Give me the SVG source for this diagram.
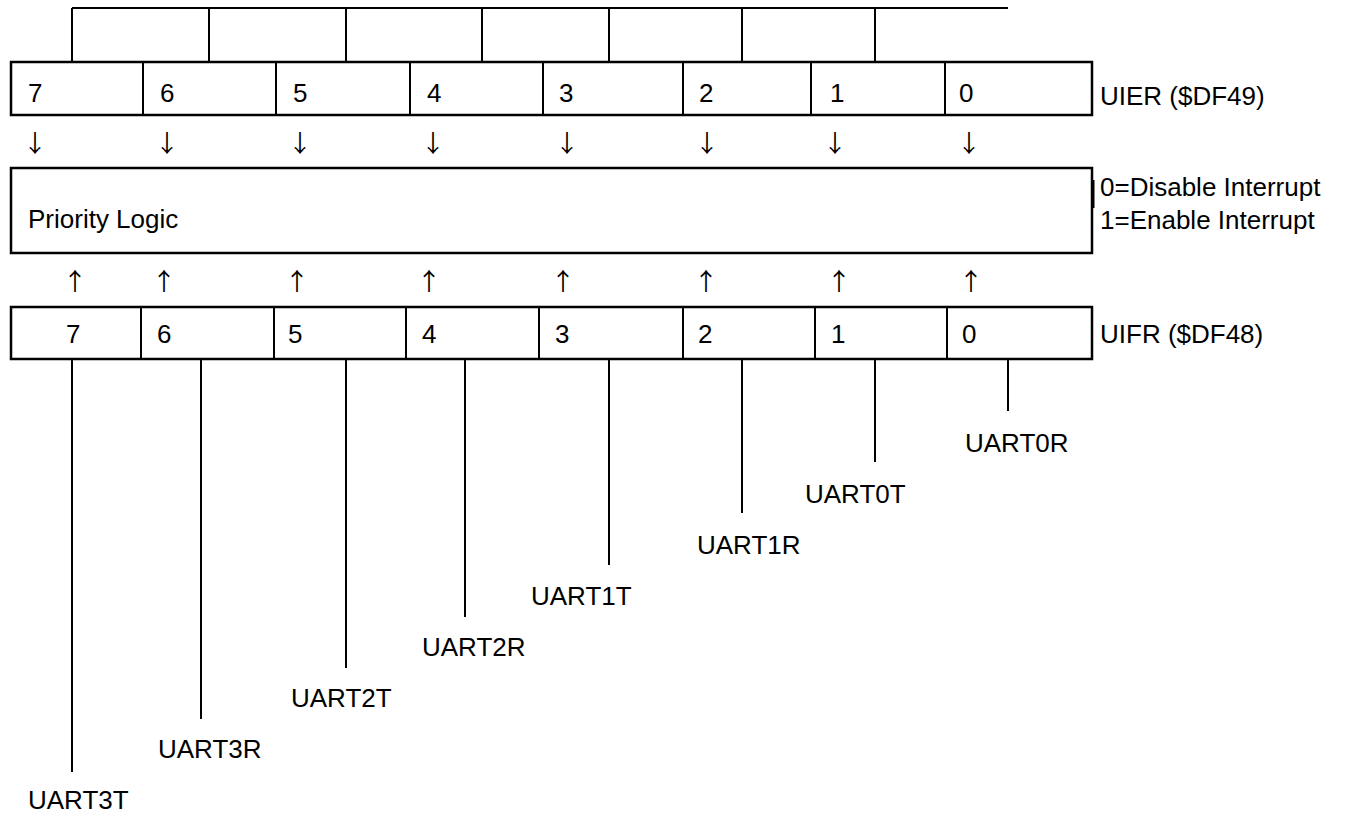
<svg xmlns="http://www.w3.org/2000/svg" width="1348" height="815" viewBox="0 0 1348 815">
<style>
.ln{stroke:#000;stroke-width:2;fill:none}
.box{stroke:#000;stroke-width:2.5;fill:#fff}
text{font-family:"Liberation Sans",Arial,sans-serif;font-size:26px;fill:#000}
.ar{text-anchor:middle;font-family:"Noto Sans CJK JP","Noto Sans CJK SC",sans-serif;font-size:24px}
</style>
<rect width="1348" height="815" fill="#fff"/>
<g id="top-row">
<path class="ln" d="M72 8H1008M72 8V62M209 8V62M346 8V62M482 8V62M609 8V62M742 8V62M875 8V62"/>
</g>
<g id="uier">
<rect class="box" x="11" y="62" width="1081" height="53"/>
<path class="ln" d="M143 62V115M276 62V115M410 62V115M543 62V115M683 62V115M811 62V115M945 62V115"/>
<text x="28" y="102">7</text><text x="160" y="102">6</text><text x="293" y="102">5</text><text x="427" y="102">4</text>
<text x="559" y="102">3</text><text x="699" y="102">2</text><text x="830" y="102">1</text><text x="959" y="102">0</text>
<text x="1100" y="105">UIER ($DF49)</text>
</g>
<g id="down-arrows">
<text class="ar" x="35" y="152">↓</text><text class="ar" x="167" y="152">↓</text><text class="ar" x="300" y="152">↓</text><text class="ar" x="433" y="152">↓</text>
<text class="ar" x="567" y="152">↓</text><text class="ar" x="707" y="152">↓</text><text class="ar" x="835" y="152">↓</text><text class="ar" x="969" y="152">↓</text>
</g>
<g id="priority-logic">
<rect class="box" x="11" y="168" width="1081" height="85"/>
<path class="ln" d="M1093.5 180V208"/>
<text x="28" y="228">Priority Logic</text>
<text x="1100" y="196">0=Disable Interrupt</text>
<text x="1100" y="229">1=Enable Interrupt</text>
</g>
<g id="up-arrows">
<text class="ar" x="75" y="290">↑</text><text class="ar" x="164" y="290">↑</text><text class="ar" x="297" y="290">↑</text><text class="ar" x="429" y="290">↑</text>
<text class="ar" x="563" y="290">↑</text><text class="ar" x="706" y="290">↑</text><text class="ar" x="839" y="290">↑</text><text class="ar" x="971" y="290">↑</text>
</g>
<g id="uifr">
<rect class="box" x="11" y="307" width="1081" height="52"/>
<path class="ln" d="M141 307V359M274 307V359M406 307V359M539 307V359M683 307V359M815 307V359M947 307V359"/>
<text x="66" y="343">7</text><text x="157" y="343">6</text><text x="288" y="343">5</text><text x="422" y="343">4</text>
<text x="555" y="343">3</text><text x="698" y="343">2</text><text x="831" y="343">1</text><text x="962" y="343">0</text>
<text x="1100" y="343">UIFR ($DF48)</text>
</g>
<g id="connectors">
<path class="ln" d="M72 359V772M201 359V719M346 359V668M465 359V617M609 359V565M742 359V513M875 359V462M1008 359V411"/>
</g>
<g id="labels">
<text x="28" y="809">UART3T</text>
<text x="158" y="758">UART3R</text>
<text x="291" y="707">UART2T</text>
<text x="422" y="656">UART2R</text>
<text x="531" y="605">UART1T</text>
<text x="697" y="554">UART1R</text>
<text x="805" y="503">UART0T</text>
<text x="965" y="452">UART0R</text>
</g>
</svg>
